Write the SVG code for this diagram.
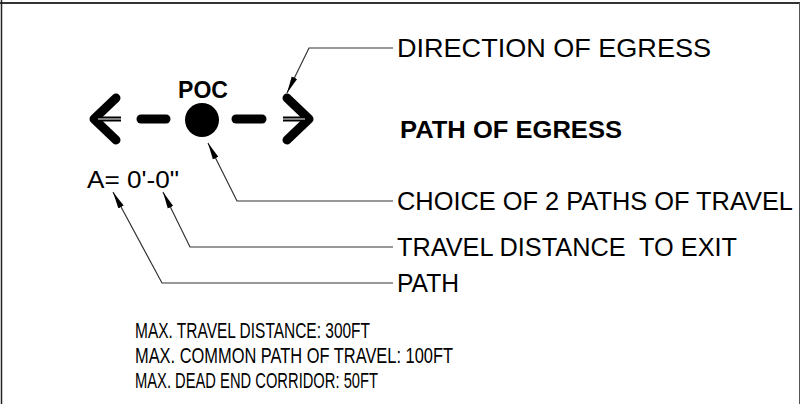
<svg xmlns="http://www.w3.org/2000/svg" width="800" height="404" viewBox="0 0 800 404">
<style>
text{font-family:"Liberation Sans",Arial,sans-serif;fill:#000;white-space:pre}
.t{font-size:25px}
.n{font-size:22px}
.a{font-size:24px}
.b{font-size:23px;font-weight:bold}
.p{font-size:24px;font-weight:bold}
.ld{fill:none;stroke:#333;stroke-width:1.2}
.thick{fill:none;stroke:#000;stroke-width:9;stroke-linecap:round;stroke-linejoin:round}
</style>
<defs>
<marker id="ah" markerUnits="userSpaceOnUse" markerWidth="18" markerHeight="8" viewBox="0 0 18 8" refX="17" refY="4" orient="auto-start-reverse">
<path d="M0,1 L17,4 L0,7 z" fill="#000"/>
</marker>
</defs>
<rect x="0" y="0" width="800" height="404" fill="#fff"/>
<g id="frame">
<line x1="0" y1="3" x2="800" y2="3" stroke="#333" stroke-width="2"/>
<line x1="1.5" y1="0" x2="1.5" y2="404" stroke="#222" stroke-width="1.5"/>
<line x1="799.5" y1="3" x2="799.5" y2="404" stroke="#555" stroke-width="1"/>
</g>
<g id="symbol">
<polyline class="thick" points="116,98 94,119 116,140"/>
<line x1="96" y1="119" x2="121" y2="119" stroke="#000" stroke-width="5"/>
<line x1="98" y1="119" x2="121" y2="119" stroke="#fff" stroke-width="1"/>
<line class="thick" x1="141" y1="119" x2="166" y2="119"/>
<circle cx="202" cy="120" r="17" fill="#000"/>
<line class="thick" x1="236" y1="119" x2="262" y2="119"/>
<polyline class="thick" points="287,98 309,119 287,140"/>
<line x1="283" y1="119" x2="307" y2="119" stroke="#000" stroke-width="5"/>
<line x1="283" y1="119" x2="305" y2="119" stroke="#fff" stroke-width="1"/>
<text class="p" x="178" y="98" textLength="50" lengthAdjust="spacingAndGlyphs">POC</text>
<text class="a" x="87" y="188" textLength="92" lengthAdjust="spacingAndGlyphs">A= 0'-0"</text>
</g>
<g id="connectors">
<polyline class="ld" points="393,48 309,48 287,93" marker-end="url(#ah)"/>
<polyline class="ld" points="393,201 237,201 208,143" marker-end="url(#ah)"/>
<polyline class="ld" points="393,247 190,247 163,192" marker-end="url(#ah)"/>
<polyline class="ld" points="393,283 162,283 113,192" marker-end="url(#ah)"/>
</g>
<g id="labels">
<text class="t" x="397" y="57" textLength="314" lengthAdjust="spacingAndGlyphs">DIRECTION OF EGRESS</text>
<text class="b" x="400" y="138" textLength="222" lengthAdjust="spacingAndGlyphs">PATH OF EGRESS</text>
<text class="t" x="397" y="210" textLength="396" lengthAdjust="spacingAndGlyphs">CHOICE OF 2 PATHS OF TRAVEL</text>
<text class="t" x="397" y="256" textLength="340" lengthAdjust="spacingAndGlyphs">TRAVEL DISTANCE  TO EXIT</text>
<text class="t" x="397" y="292" textLength="62" lengthAdjust="spacingAndGlyphs">PATH</text>
</g>
<g id="notes">
<text class="n" x="135" y="338" textLength="235" lengthAdjust="spacingAndGlyphs">MAX. TRAVEL DISTANCE: 300FT</text>
<text class="n" x="135" y="363" textLength="318" lengthAdjust="spacingAndGlyphs">MAX. COMMON PATH OF TRAVEL: 100FT</text>
<text class="n" x="135" y="388" textLength="243" lengthAdjust="spacingAndGlyphs">MAX. DEAD END CORRIDOR: 50FT</text>
</g>
</svg>
